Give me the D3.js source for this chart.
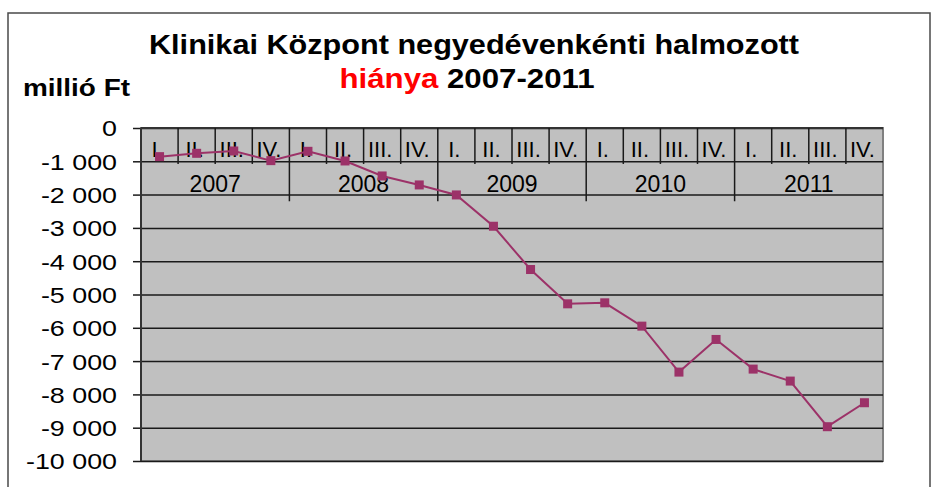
<!DOCTYPE html>
<html>
<head>
<meta charset="utf-8">
<script src="https://cdn.jsdelivr.net/npm/d3@7"></script>
<style>
  body { margin: 0; background: #fff; }
  svg { display: block; font-family: "Liberation Sans", Arial, sans-serif; }
</style>
</head>
<body>
<svg id="chart" width="943" height="487"></svg>
<script>
(function (d3) {
    'use strict';

    // data
    var years = ['2007', '2008', '2009', '2010', '2011'];
    var quarters = ['I.', 'II.', 'III.', 'IV.'];
    var deficit = [-860, -760, -690, -980, -700, -990, -1440, -1710, -2010, -2950,
        -4250, -5280, -5250, -5950, -7330, -6350, -7240, -7600, -8970, -8250];
    var yTicks = [0, -1000, -2000, -3000, -4000, -5000, -6000, -7000, -8000, -9000, -10000];

    var svg = d3.select('#chart'),
        left = 141, right = 883, top = 128, bottom = 461,
        lineColor = '#9c3268';

    var periods = [];
    years.forEach(function (y) {
        quarters.forEach(function (q) {
            periods.push(y + ' ' + q);
        });
    });

    var x = d3.scaleBand().domain(periods).range([left, right]);
    var y = d3.scaleLinear().domain([-10000, 0]).range([bottom, top]);

    var locale = d3.formatLocale({decimal: ',', thousands: ' ', grouping: [3], currency: ['', ''], minus: '-'});
    var fmt = locale.format(',d');

    // outer frame
    svg.append('rect')
        .attr('x', 8).attr('y', 13)
        .attr('width', 922).attr('height', 500)
        .attr('fill', 'none')
        .attr('stroke', '#4a4a4a')
        .attr('stroke-width', 1.5);

    // title
    svg.append('text')
        .attr('x', 474).attr('y', 54)
        .attr('text-anchor', 'middle')
        .style('font-size', '28px').style('font-weight', 'bold')
        .attr('textLength', 650).attr('lengthAdjust', 'spacingAndGlyphs')
        .text('Klinikai Központ negyedévenkénti halmozott');
    var t2 = svg.append('text')
        .attr('x', 467).attr('y', 88)
        .attr('text-anchor', 'middle')
        .style('font-size', '28px').style('font-weight', 'bold')
        .attr('textLength', 255).attr('lengthAdjust', 'spacingAndGlyphs');
    t2.append('tspan').attr('fill', '#ff0000').text('hiánya');
    t2.append('tspan').attr('fill', '#000').text(' 2007-2011');

    svg.append('text')
        .attr('x', 23).attr('y', 96)
        .style('font-size', '24px').style('font-weight', 'bold')
        .attr('textLength', 107).attr('lengthAdjust', 'spacingAndGlyphs')
        .text('millió Ft');

    // plot background
    svg.append('rect')
        .attr('x', left).attr('y', top)
        .attr('width', right - left).attr('height', bottom - top)
        .attr('fill', '#c0c0c0')
        .attr('stroke', '#808080')
        .attr('stroke-width', 2);

    // gridlines
    svg.append('g')
        .attr('transform', 'translate(' + left + ',0)')
        .call(d3.axisLeft(y).tickValues(yTicks).tickSize(-(right - left)).tickFormat(''))
        .call(function (g) {
            g.select('.domain').remove();
            g.selectAll('.tick line').attr('stroke', '#1a1a1a').attr('stroke-width', 1.5);
        });

    // y axis with labels
    var yAxis = svg.append('g')
        .attr('transform', 'translate(' + left + ',0)')
        .call(d3.axisLeft(y).tickValues(yTicks).tickSize(8).tickPadding(16).tickFormat(fmt));
    yAxis.select('.domain').remove();
    yAxis.selectAll('.tick line').attr('stroke', '#1a1a1a').attr('stroke-width', 1.5);
    yAxis.selectAll('.tick text')
        .attr('fill', '#000')
        .style('font-size', '22px')
        .attr('font-family', null)
        .attr('dy', '0.36em')
        .each(function () {
            var w = this.getComputedTextLength();
            d3.select(this).attr('textLength', w * 1.22).attr('lengthAdjust', 'spacingAndGlyphs');
        });

    svg.append('line')
        .attr('x1', left).attr('x2', left)
        .attr('y1', top).attr('y2', bottom)
        .attr('stroke', '#333').attr('stroke-width', 2);
    svg.append('line')
        .attr('x1', left).attr('x2', right)
        .attr('y1', top).attr('y2', top)
        .attr('stroke', '#333').attr('stroke-width', 2);

    // category axis: quarter and year dividers
    svg.append('g').selectAll('line')
        .data(periods.slice(1))
        .join('line')
        .attr('x1', function (d) { return x(d); })
        .attr('x2', function (d) { return x(d); })
        .attr('y1', top)
        .attr('y2', function (d) { return d.slice(-3) === ' I.' ? y(-2200) : y(-1080); })
        .attr('stroke', '#1a1a1a')
        .attr('stroke-width', 1.5);

    svg.append('g').selectAll('text')
        .data(periods)
        .join('text')
        .attr('x', function (d) { return x(d) + x.bandwidth() / 2 - 2; })
        .attr('y', y(-880))
        .attr('text-anchor', 'middle')
        .style('font-size', '22px')
        .text(function (d) { return d.split(' ')[1]; });

    svg.append('g').selectAll('text')
        .data(years)
        .join('text')
        .attr('x', function (d) { return x(d + ' I.') + 2 * x.bandwidth(); })
        .attr('y', y(-1920))
        .attr('text-anchor', 'middle')
        .style('font-size', '23px')
        .text(function (d) { return d; });

    // series
    var line = d3.line()
        .x(function (d, i) { return x(periods[i]) + x.bandwidth() / 2; })
        .y(function (d) { return y(d); });

    svg.append('path')
        .datum(deficit)
        .attr('d', line)
        .attr('fill', 'none')
        .attr('stroke', lineColor)
        .attr('stroke-width', 2);

    svg.append('g').selectAll('rect')
        .data(deficit)
        .join('rect')
        .attr('x', function (d, i) { return x(periods[i]) + x.bandwidth() / 2 - 4.5; })
        .attr('y', function (d) { return y(d) - 4.5; })
        .attr('width', 9)
        .attr('height', 9)
        .attr('fill', lineColor);

}(window.d3));
</script>
</body>
</html>
